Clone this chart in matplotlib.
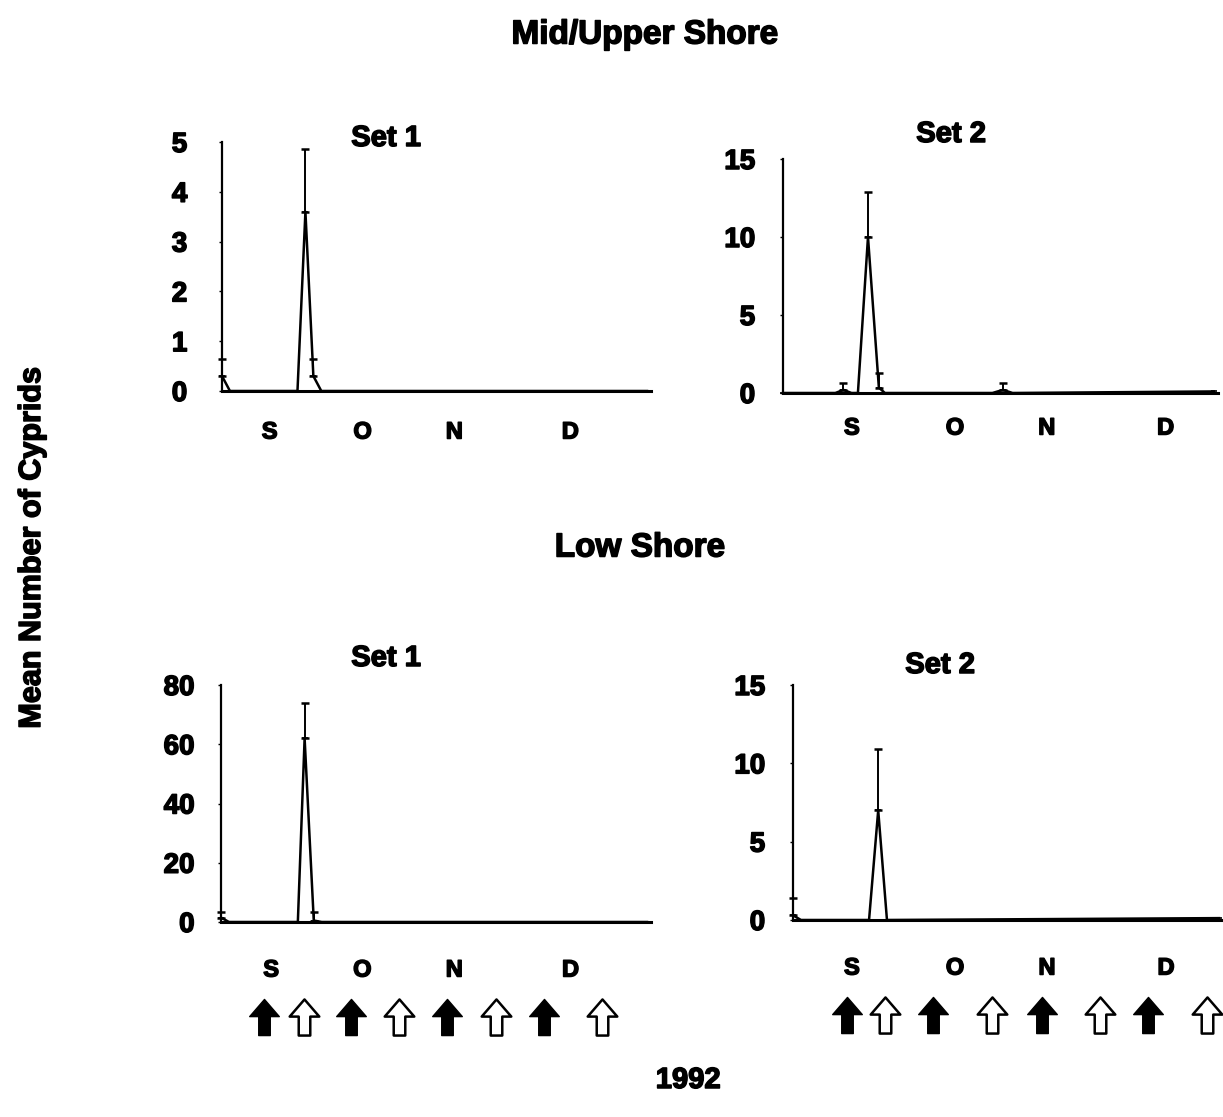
import matplotlib
matplotlib.use("Agg")
import matplotlib.pyplot as plt
import matplotlib.patheffects as pe
from matplotlib.path import Path
from matplotlib.transforms import offset_copy

plt.rcParams['font.family'] = ['Liberation Sans', 'DejaVu Sans']
plt.rcParams['font.weight'] = 'bold'

HEAVY = [pe.withStroke(linewidth=1.1, foreground='black')]

# ---------------- data (x in days from start of sampling) ----------------
months = ['S', 'O', 'N', 'D']

# Mid/Upper shore, Set 1
a_day = [0, 2, 19, 21, 23, 25, 107]
a_mean = [0.3, 0, 0, 3.6, 0.3, 0, 0]
a_upper = [0.65, 0, 0, 4.85, 0.65, 0, 0]
a_month_pos = [12, 35.4, 58.5, 87.7]
a_yticks = [0, 1, 2, 3, 4, 5]

# Mid/Upper shore, Set 2
b_day = [0, 13, 15, 17, 18.6, 21.1, 23.8, 25.3, 52, 54.6, 57, 107]
b_mean = [0, 0, 0.2, 0, 0, 10, 0.35, 0, 0, 0.2, 0, 0.1]
b_upper = [0, 0, 0.65, 0, 0, 12.9, 1.3, 0, 0, 0.65, 0, 0.1]
b_month_pos = [17.1, 42.7, 65.5, 95]
b_yticks = [0, 5, 10, 15]

# Low shore, Set 1
c_day = [0, 2, 19.3, 21, 23.3, 25.3, 107]
c_mean = [1.5, 0, 0, 62, 0.5, 0, 0]
c_upper = [3.5, 0, 0, 74, 3.3, 0, 0]
c_month_pos = [12.6, 35.5, 58.6, 87.8]
c_yticks = [0, 20, 40, 60, 80]

# Low shore, Set 2
d_day = [0, 2, 19.1, 21.4, 23.6, 107]
d_mean = [0.3, 0, 0, 7, 0, 0.12]
d_upper = [1.4, 0, 0, 10.9, 0, 0.12]
d_month_pos = [14.8, 40.7, 63.8, 93.7]
d_yticks = [0, 5, 10, 15]

# tide arrows (filled / open) positions in days
c_filled = [10.8, 32.7, 56.8, 81.2]
c_open = [20.9, 44.7, 69.1, 95.7]
d_filled = [13.6, 35.2, 62.6, 89.2]
d_open = [23.1, 50.0, 77.1, 104.0]

# ---------------- figure ----------------
W, H = 1223, 1117
fig = plt.figure(figsize=(W / 100, H / 100), dpi=100)


def add_ax(l, r, b, t):
    return fig.add_axes([l / W, 1 - b / H, (r - l) / W, (b - t) / H])


arrow_path = Path([(-0.32, -1.0), (0.32, -1.0), (0.32, 0.05), (0.82, 0.05),
                   (0.0, 1.0), (-0.82, 0.05), (-0.32, 0.05), (-0.32, -1.0)],
                  [Path.MOVETO] + [Path.LINETO] * 6 + [Path.CLOSEPOLY])


def panel(box, day, mean, upper, ymax, yticks, mpos, mlab_off, ypad):
    ax = add_ax(*box)
    ax.plot(day, mean, color='black', lw=1.8, marker='_', ms=5, mew=1.2,
            clip_on=False, zorder=3)
    keep = [i for i in range(len(day)) if upper[i] > mean[i] + 0.05]
    ex = [day[i] for i in keep]
    em = [mean[i] for i in keep]
    eu = [upper[i] - mean[i] for i in keep]
    ax.errorbar(ex, em, yerr=[[0] * len(eu), eu], fmt='none', ecolor='black',
                elinewidth=1.4, capsize=3, capthick=1.8, clip_on=False, zorder=3)
    ax.set_xlim(0, 108)
    ax.set_ylim(0, ymax)
    ax.set_yticks(yticks)
    ax.set_yticklabels([str(v) for v in yticks], fontsize=20, fontweight='bold')
    for t in ax.get_yticklabels():
        t.set_path_effects(HEAVY)
    ax.tick_params(axis='y', length=2, width=1, pad=ypad)
    ax.set_xticks([])
    for s in ('top', 'right'):
        ax.spines[s].set_visible(False)
    ax.spines['left'].set_linewidth(1.6)
    ax.spines['bottom'].set_linewidth(2.2)
    tr = offset_copy(ax.get_xaxis_transform(), fig=fig, x=0, y=-mlab_off,
                     units='dots')
    for p, lab in zip(mpos, months):
        ax.text(p, 0, lab, transform=tr, ha='center', va='center',
                fontsize=17, fontweight='bold', path_effects=HEAVY)
    return ax


ax_a = panel((222, 651, 391, 142), a_day, a_mean, a_upper, 5, a_yticks,
             a_month_pos, 41, 23)
ax_b = panel((783, 1218, 393, 159), b_day, b_mean, b_upper, 15, b_yticks,
             b_month_pos, 35, 18)
ax_c = panel((221, 651, 922, 685), c_day, c_mean, c_upper, 80, c_yticks,
             c_month_pos, 48, 17)
ax_d = panel((793, 1223, 920, 685), d_day, d_mean, d_upper, 15, d_yticks,
             d_month_pos, 48, 18)


def arrows(ax, filled, openp, off):
    tr = offset_copy(ax.get_xaxis_transform(), fig=fig, x=0, y=-off,
                     units='dots')
    ax.plot(filled, [0] * len(filled), transform=tr, ls='none',
            marker=arrow_path, ms=26, mfc='black', mec='black', mew=1,
            clip_on=False)
    ax.plot(openp, [0] * len(openp), transform=tr, ls='none',
            marker=arrow_path, ms=26, mfc='white', mec='black', mew=1.8,
            clip_on=False)


arrows(ax_c, c_filled, c_open, 95)
arrows(ax_d, d_filled, d_open, 95)


def ftext(x, y, s, size, **kw):
    fig.text(x / W, 1 - y / H, s, ha='center', va='center', fontsize=size,
             fontweight='bold', path_effects=HEAVY, **kw)


ftext(645, 35, 'Mid/Upper Shore', 24)
ftext(640, 548, 'Low Shore', 24)
ftext(386, 138, 'Set 1', 21)
ftext(951, 134, 'Set 2', 21)
ftext(386, 658, 'Set 1', 21)
ftext(940, 665, 'Set 2', 21)
ftext(32, 548, 'Mean Number of Cyprids', 22, rotation=90)
ftext(688, 1080, '1992', 21)

fig.savefig('out.png', dpi=100)
